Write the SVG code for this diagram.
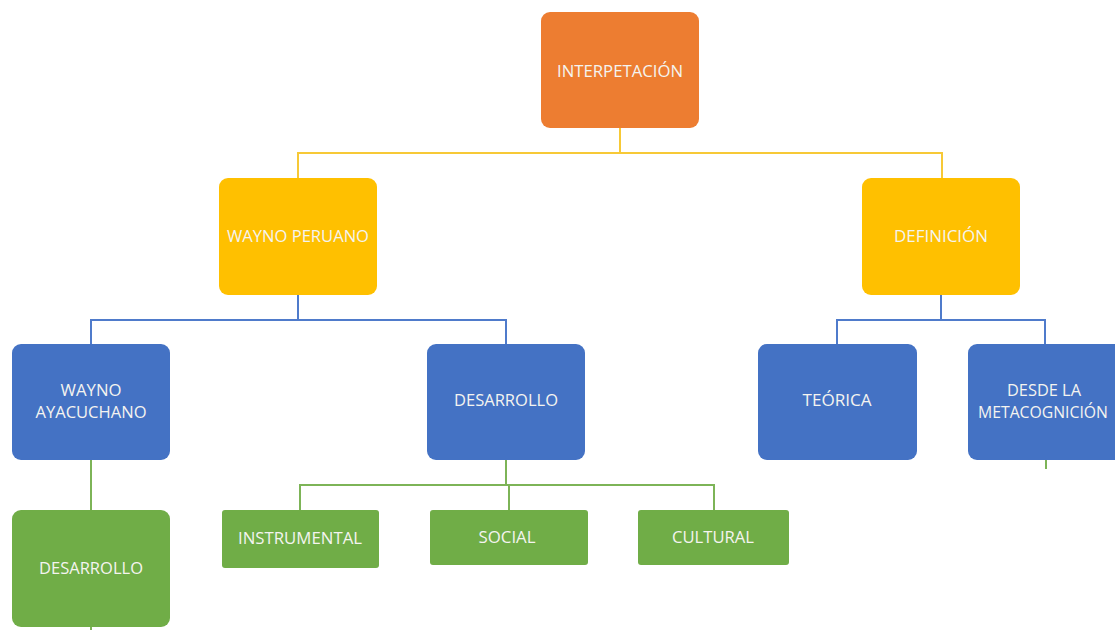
<svg xmlns="http://www.w3.org/2000/svg" width="1115" height="630" viewBox="0 0 1115 630">
<style>
.box{rx:9;ry:9}
.orange{fill:#ED7D31}
.gold{fill:#FFC000}
.blue{fill:#4472C4}
.green{fill:#70AD47}
text{font-family:"Open Sans","Liberation Sans",sans-serif;font-size:17px;font-weight:500;fill:#F4F4F0;text-anchor:middle;dominant-baseline:central}
.c{fill:none;stroke-width:2}
.cy{stroke:#F7C936}
.cb{stroke:#4F7BCB}
.cg{stroke:#7DB457}
</style>
<rect width="1115" height="630" fill="#FFFFFF"/>
<g id="connectors">
<path class="c cy" d="M620 128V153M298 178V153H942V178"/>
<path class="c cb" d="M298 295V320M91 344V320H506V344"/>
<path class="c cb" d="M941 295V320M837 344V320H1045V344"/>
<path class="c cg" d="M91 460V510M91 627V630"/>
<path class="c cg" d="M506 460V485M300 510V485H714V510M509 485V510"/>
<path class="c cg" d="M1046 460V469"/>
</g>
<g id="n-interpretacion"><rect class="box orange" x="541" y="12" width="158" height="116"/><text x="620" y="70" textLength="126" lengthAdjust="spacingAndGlyphs">INTERPETACIÓN</text></g>
<g id="n-wayno-peruano"><rect class="box gold" x="219" y="178" width="158" height="117"/><text x="298" y="235" textLength="142" lengthAdjust="spacingAndGlyphs">WAYNO PERUANO</text></g>
<g id="n-definicion"><rect class="box gold" x="862" y="178" width="158" height="117"/><text x="941" y="235" textLength="94" lengthAdjust="spacingAndGlyphs">DEFINICIÓN</text></g>
<g id="n-wayno-ayacuchano"><rect class="box blue" x="12" y="344" width="158" height="116"/><text x="91" y="389" textLength="61" lengthAdjust="spacingAndGlyphs">WAYNO</text><text x="91" y="411" textLength="111" lengthAdjust="spacingAndGlyphs">AYACUCHANO</text></g>
<g id="n-desarrollo-azul"><rect class="box blue" x="427" y="344" width="158" height="116"/><text x="506" y="399" textLength="104" lengthAdjust="spacingAndGlyphs">DESARROLLO</text></g>
<g id="n-teorica"><rect class="box blue" x="758" y="344" width="159" height="116"/><text x="837" y="399" textLength="69" lengthAdjust="spacingAndGlyphs">TEÓRICA</text></g>
<g id="n-metacognicion"><rect class="box blue" x="968" y="344" width="160" height="116"/><text x="1044" y="389" textLength="74" lengthAdjust="spacingAndGlyphs">DESDE LA</text><text x="1043" y="411" textLength="130" lengthAdjust="spacingAndGlyphs">METACOGNICIÓN</text></g>
<g id="n-desarrollo-verde"><rect class="box green" x="12" y="510" width="158" height="117"/><text x="91" y="567" textLength="104" lengthAdjust="spacingAndGlyphs">DESARROLLO</text></g>
<g id="n-instrumental"><rect class="box green" x="222" y="510" width="157" height="58" style="rx:3px;ry:3px"/><text x="300" y="537" textLength="124" lengthAdjust="spacingAndGlyphs">INSTRUMENTAL</text></g>
<g id="n-social"><rect class="box green" x="430" y="510" width="158" height="55" style="rx:3px;ry:3px"/><text x="507" y="536" textLength="57" lengthAdjust="spacingAndGlyphs">SOCIAL</text></g>
<g id="n-cultural"><rect class="box green" x="638" y="510" width="151" height="55" style="rx:3px;ry:3px"/><text x="713" y="536" textLength="82" lengthAdjust="spacingAndGlyphs">CULTURAL</text></g>
</svg>
